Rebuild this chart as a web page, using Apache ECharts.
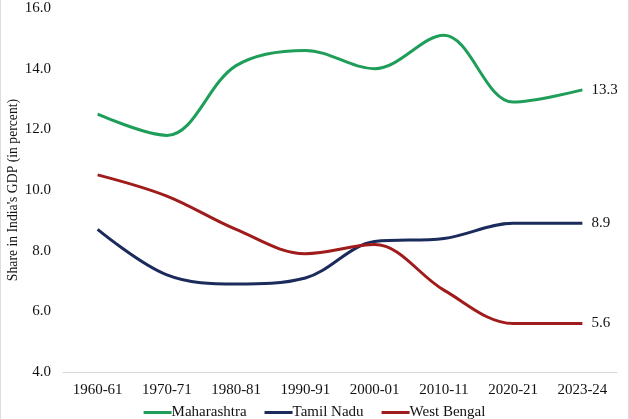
<!DOCTYPE html>
<html style="height: 100%">
<head>
    <meta charset="UTF-8">
    <script src="https://cdn.jsdelivr.net/npm/echarts@6/dist/echarts.min.js"></script>
    <style type="text/css">
        body { margin: 0; background: #ffffff; }
        #paint { width: 629px; height: 419px; box-sizing: border-box; border-left: 1px solid #dddddd; border-right: 1px solid #dddddd; }
    </style>
</head>
<body>
    <div id="paint"></div>
<script>
    // data
    var years = ['1960-61', '1970-71', '1980-81', '1990-91', '2000-01', '2010-11', '2020-21', '2023-24'];
    var maharashtra = [12.5, 11.8, 14.1, 14.6, 14.0, 15.1, 12.9, 13.3];
    var tamilNadu = [8.7, 7.2, 6.9, 7.1, 8.3, 8.4, 8.9, 8.9];
    var westBengal = [10.5, 9.8, 8.7, 7.9, 8.2, 6.7, 5.6, 5.6];
    var yTicks = { min: 4, max: 16, interval: 2 };
    var yTitle = "Share in India's GDP (in percent)";

    var font = 'Liberation Serif';

    function makeLine(name, data, color) {
        return {
            name: name,
            type: 'line',
            data: data,
            smooth: 0.35,
            symbol: 'none',
            lineStyle: { color: color, width: 3 },
            itemStyle: { color: color },
            endLabel: {
                show: true,
                distance: 9,
                fontFamily: font,
                fontSize: 15,
                color: '#111111',
                formatter: function (p) { return p.value.toFixed(1); }
            }
        };
    }

    echarts.init(document.getElementById('paint')).setOption({
        backgroundColor: '#ffffff',
        animation: false,
        textStyle: { fontFamily: font },
        grid: { left: 62, right: 11, top: 8, bottom: 47, outerBoundsMode: 'none' },
        // y axis title, placed by hand beside the grid
        graphic: [{
            type: 'text',
            x: 12,
            y: 190,
            rotation: Math.PI / 2,
            style: {
                text: yTitle,
                font: '13.7px "Liberation Serif"',
                fill: '#111111',
                align: 'center',
                verticalAlign: 'middle'
            }
        }],
        legend: {
            data: ['Maharashtra', 'Tamil Nadu', 'West Bengal'],
            bottom: -6,
            left: 'center',
            itemWidth: 28,
            itemHeight: 3,
            itemGap: 18,
            icon: 'rect',
            textStyle: { fontFamily: font, fontSize: 15, color: '#111111', padding: [0, 0, 0, -5] }
        },
        xAxis: {
            type: 'category',
            data: years,
            boundaryGap: true,
            axisLine: { lineStyle: { color: '#d9d9d9', width: 1 } },
            axisTick: { show: false },
            axisLabel: { fontFamily: font, fontSize: 15, color: '#111111', margin: 11 },
            splitLine: { show: false }
        },
        yAxis: {
            type: 'value',
            min: yTicks.min,
            max: yTicks.max,
            interval: yTicks.interval,
            axisLine: { show: false },
            axisTick: { show: false },
            splitLine: { show: false },
            axisLabel: {
                fontFamily: font, fontSize: 15, color: '#111111', margin: 12,
                formatter: function (v) { return v.toFixed(1); }
            }
        },
        series: [
            makeLine('Maharashtra', maharashtra, '#1f9e5a'),
            makeLine('Tamil Nadu', tamilNadu, '#1a2b5c'),
            makeLine('West Bengal', westBengal, '#a01c1c')
        ]
    });
</script>
</body>
</html>
